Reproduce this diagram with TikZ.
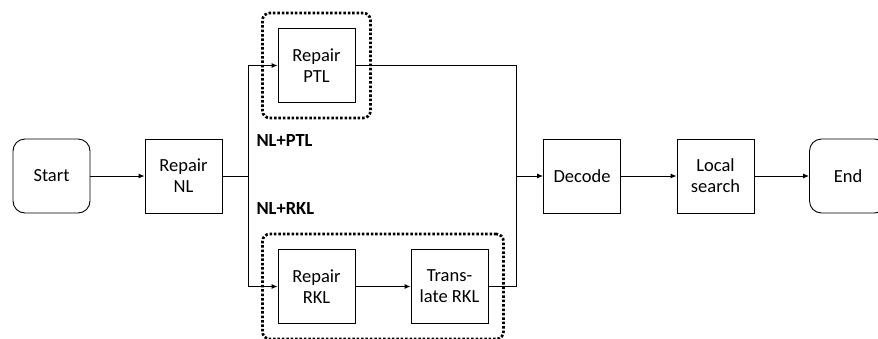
\documentclass[tikz,border=0pt]{standalone}
\usepackage{fontspec}
\setmainfont{Carlito}
\usetikzlibrary{arrows.meta, fit, positioning}

\begin{document}
\begin{tikzpicture}[
    x=1pt, y=-1pt,
    stepbox/.style={
        rectangle,
        draw=black,
        fill=white,
        line width=0.9pt,
        minimum width=77pt,
        minimum height=74pt,
        align=center,
        font=\fontsize{18.5}{21}\selectfont
    },
    terminal/.style={
        stepbox,
        rounded corners=12pt
    },
    group/.style={
        draw=black,
        line width=2.7pt,
        dash pattern=on 2.5pt off 1.9pt,
        rounded corners=7pt,
        inner sep=15pt
    },
    arrow/.style={
        -{Latex[length=6pt,width=5pt]},
        line width=0.9pt
    },
    line/.style={
        line width=0.9pt
    },
    branch/.style={
        font=\fontsize{18.5}{21}\selectfont\bfseries,
        anchor=west
    }
]

\useasboundingbox (0,0) rectangle (878,338);

% Nodes
\node[terminal] (start) at (51.5,176) {Start};
\node[stepbox] (repnl) at (183.5,176) {Repair\\NL};
\node[stepbox] (repptl) at (316.5,65.5) {Repair\\PTL};
\node[stepbox] (reprkl) at (316.5,286.5) {Repair\\RKL};
\node[stepbox] (transrkl) at (449.5,286.5) {Trans-\\late RKL};
\node[stepbox] (decode) at (582,176) {Decode};
\node[stepbox] (local) at (715.5,176) {Local\\search};
\node[terminal] (end) at (848,176) {End};

% Groups
\node[group, fit=(repptl)] (ptlgroup) {};
\node[group, fit=(reprkl) (transrkl)] (rklgroup) {};

% Labels
\node[branch] (nlptl) at (253,140) {NL+PTL};
\node[branch] (nlrkl) at (253,208) {NL+RKL};

% Junctions
\coordinate (split) at (248,176);
\coordinate (merge) at (516,176);

% Arrows
\draw[arrow] (start) -- (repnl);
\draw[line] (repnl) -- (split);
\draw[arrow] (split) |- (repptl);
\draw[arrow] (split) |- (reprkl);
\draw[arrow] (reprkl) -- (transrkl);
\draw[line] (repptl) -| (merge);
\draw[line] (transrkl) -| (merge);
\draw[arrow] (merge) -- (decode);
\draw[arrow] (decode) -- (local);
\draw[arrow] (local) -- (end);

\end{tikzpicture}
\end{document}
